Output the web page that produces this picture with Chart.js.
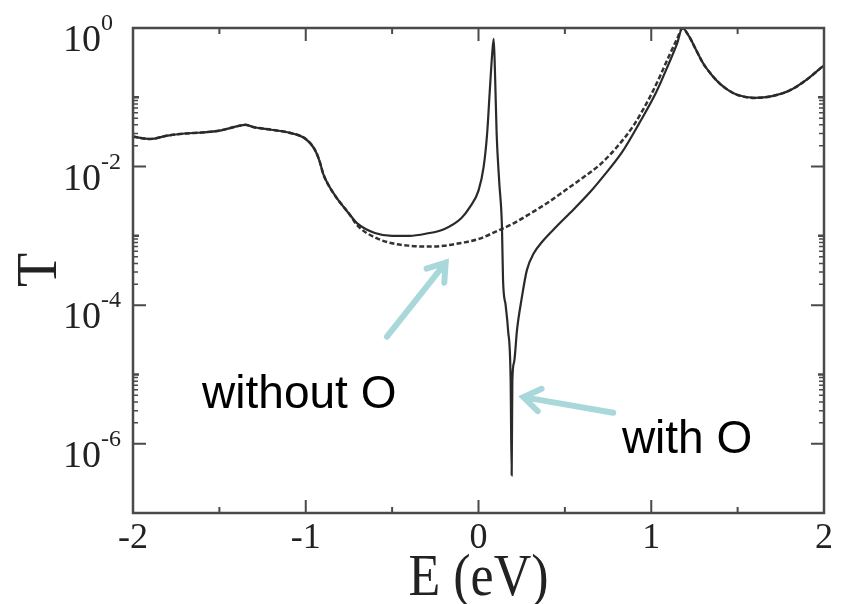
<!DOCTYPE html>
<html>
<head>
<meta charset="utf-8">
<script src="https://cdn.jsdelivr.net/npm/chart.js@4/dist/chart.umd.min.js"></script>
<style>
  html, body { margin: 0; padding: 0; background: #fff; }
  #wrap { width: 844px; height: 604px; }
</style>
</head>
<body>
<div id="wrap"><canvas id="myChart" width="844" height="604"></canvas></div>
<script>
// energies (eV) and transmission
var eWithout = [-2.0, -1.9, -1.8, -1.7, -1.6, -1.5, -1.4, -1.35, -1.3, -1.2, -1.1, -1.0, -0.95, -0.92, -0.9, -0.87, -0.82, -0.75, -0.7, -0.6, -0.5, -0.4, -0.3, -0.2, -0.1, 0.0, 0.1, 0.2, 0.3, 0.4, 0.5, 0.6, 0.7, 0.8, 0.9, 1.0, 1.05, 1.1, 1.15, 1.18, 1.22, 1.26, 1.3, 1.35, 1.4, 1.45, 1.5, 1.6, 1.7, 1.8, 1.9, 2.0];
var tWithout = [0.027, 0.025, 0.028, 0.030, 0.031, 0.033, 0.038, 0.040, 0.037, 0.034, 0.031, 0.025, 0.018, 0.012, 0.008, 0.0055, 0.0035, 0.0021, 0.0014, 0.00095, 0.00078, 0.00072, 0.00070, 0.00072, 0.00079, 0.00090, 0.00115, 0.0015, 0.0021, 0.0030, 0.0045, 0.0068, 0.0105, 0.019, 0.04, 0.11, 0.2, 0.38, 0.7, 0.98, 0.75, 0.48, 0.31, 0.21, 0.155, 0.125, 0.108, 0.098, 0.104, 0.125, 0.18, 0.29];

var eWith = [-2.0, -1.9, -1.8, -1.7, -1.6, -1.5, -1.4, -1.35, -1.3, -1.2, -1.1, -1.0, -0.95, -0.92, -0.9, -0.87, -0.82, -0.75, -0.7, -0.6, -0.5, -0.4, -0.3, -0.2, -0.1, -0.05, 0.0, 0.03, 0.05, 0.065, 0.08, 0.088, 0.095, 0.105, 0.12, 0.136, 0.142, 0.157, 0.171, 0.186, 0.192, 0.196, 0.206, 0.223, 0.25, 0.28, 0.32, 0.37, 0.45, 0.55, 0.65, 0.72, 0.83, 0.93, 1.03, 1.1, 1.15, 1.18, 1.22, 1.26, 1.3, 1.35, 1.4, 1.45, 1.5, 1.6, 1.7, 1.8, 1.9, 2.0];
var tWith = [0.027, 0.025, 0.028, 0.030, 0.031, 0.033, 0.038, 0.040, 0.037, 0.034, 0.031, 0.025, 0.018, 0.012, 0.008, 0.0055, 0.0035, 0.0021, 0.0015, 0.0011, 0.00100, 0.00100, 0.00108, 0.00125, 0.0018, 0.0026, 0.0045, 0.01, 0.03, 0.12, 0.45, 0.7, 0.25, 0.03, 0.006, 0.0013, 0.00023, 0.0001, 0.000044, 0.0000083, 3.5e-7, 0.0000083, 0.000015, 0.000044, 0.000125, 0.00032, 0.00056, 0.00083, 0.00135, 0.0024, 0.0044, 0.0071, 0.016, 0.042, 0.12, 0.3, 0.6, 1.0, 0.75, 0.48, 0.31, 0.21, 0.155, 0.125, 0.108, 0.098, 0.104, 0.125, 0.18, 0.29];

var xMajorTicks = [-2, -1, 0, 1, 2];
var xMinorTicks = [-1.5, -0.5, 0.5, 1.5];
var yMajorTicks = [1, 1e-2, 1e-4, 1e-6];
var yMajorExp = ['0', '-2', '-4', '-6'];

// small log ticks: 10^(d+1) and 2..9 x 10^d for d = -2, -4, -6
var yMidTicks = [1e-1, 1e-3, 1e-5];
var yMinorTicks = [];
[-2, -4, -6].forEach(function (d) {
    for (var m = 2; m <= 9; m++) yMinorTicks.push(m * Math.pow(10, d));
});

// annotations, in data coordinates
var notes = [
    { text: 'without O', x: -1.60, y: 3.3e-6, from: [-0.53, 3.5e-5], to: [-0.19, 4.1e-4] },
    { text: 'with O', x: 0.83, y: 7.4e-7, from: [0.78, 2.8e-6], to: [0.26, 4.7e-6] }
];

function toPoints(es, ts) {
    return es.map(function (e, i) { return { x: e, y: ts[i] }; });
}

var axisColor = '#4a4a4a';

var framePlugin = {
    id: 'frame',
    afterDraw: function (chart) {
        var ctx = chart.ctx, a = chart.chartArea;
        var x = chart.scales.x, y = chart.scales.y;
        ctx.save();
        ctx.strokeStyle = axisColor;
        ctx.lineWidth = 2.5;
        ctx.strokeRect(a.left, a.top, a.right - a.left, a.bottom - a.top);

        ctx.lineWidth = 2;
        function xTick(v, len) {
            var px = x.getPixelForValue(v);
            ctx.beginPath();
            ctx.moveTo(px, a.bottom); ctx.lineTo(px, a.bottom - len);
            ctx.moveTo(px, a.top); ctx.lineTo(px, a.top + len);
            ctx.stroke();
        }
        function yTick(v, len) {
            var py = y.getPixelForValue(v);
            ctx.beginPath();
            ctx.moveTo(a.left, py); ctx.lineTo(a.left + len, py);
            ctx.moveTo(a.right, py); ctx.lineTo(a.right - len, py);
            ctx.stroke();
        }
        xMajorTicks.forEach(function (v) { xTick(v, 13); });
        xMinorTicks.forEach(function (v) { xTick(v, 6); });
        yMajorTicks.forEach(function (v) { yTick(v, 13); });
        ctx.lineWidth = 2.5;
        yMidTicks.forEach(function (v) { yTick(v, 6); });
        ctx.lineWidth = 1.5;
        yMinorTicks.forEach(function (v) { yTick(v, 5); });

        // tick labels
        ctx.fillStyle = '#222';
        ctx.font = '36px "Liberation Serif", serif';
        ctx.textAlign = 'center';
        ctx.textBaseline = 'alphabetic';
        xMajorTicks.forEach(function (v) {
            ctx.fillText(String(v), x.getPixelForValue(v), a.bottom + 35);
        });
        yMajorTicks.forEach(function (v, i) {
            var py = y.getPixelForValue(v);
            ctx.textAlign = 'right';
            ctx.font = '38px "Liberation Serif", serif';
            ctx.fillText('10', a.left - 32, py + 23);
            ctx.textAlign = 'left';
            ctx.font = '24px "Liberation Serif", serif';
            ctx.fillText(yMajorExp[i], a.left - 32, py + 2);
        });

        // axis titles
        ctx.save();
        ctx.font = '52px "Liberation Serif", serif';
        ctx.textAlign = 'center';
        ctx.translate((a.left + a.right) / 2, a.bottom + 82);
        ctx.scale(1, 1.15);
        ctx.fillText('E (eV)', 0, 0);
        ctx.restore();

        ctx.save();
        ctx.font = '56px "Liberation Serif", serif';
        ctx.textAlign = 'center';
        ctx.translate(56, 270);
        ctx.rotate(-Math.PI / 2);
        ctx.fillText('T', 0, 0);
        ctx.restore();

        // arrows and notes
        notes.forEach(function (n) {
            var x0 = x.getPixelForValue(n.from[0]), y0 = y.getPixelForValue(n.from[1]);
            var x1 = x.getPixelForValue(n.to[0]), y1 = y.getPixelForValue(n.to[1]);
            var ang = Math.atan2(y1 - y0, x1 - x0);
            ctx.strokeStyle = '#a9d8db';
            ctx.lineWidth = 6;
            ctx.lineCap = 'round';
            ctx.beginPath();
            ctx.moveTo(x0, y0); ctx.lineTo(x1, y1);
            ctx.moveTo(x1 - 20 * Math.cos(ang - 0.6), y1 - 20 * Math.sin(ang - 0.6));
            ctx.lineTo(x1, y1);
            ctx.lineTo(x1 - 20 * Math.cos(ang + 0.6), y1 - 20 * Math.sin(ang + 0.6));
            ctx.stroke();

            ctx.fillStyle = '#000';
            ctx.font = '46px "Liberation Sans", Arial, sans-serif';
            ctx.textAlign = 'left';
            ctx.fillText(n.text, x.getPixelForValue(n.x), y.getPixelForValue(n.y));
        });
        ctx.restore();
    }
};

var ctx = document.getElementById('myChart');
window.myChart = new Chart(ctx, {
    type: 'line',
    data: {
        datasets: [{
            label: 'with O',
            data: toPoints(eWith, tWith),
            borderColor: '#2a2a2a',
            borderWidth: 2.2,
            pointRadius: 0,
            cubicInterpolationMode: 'monotone',
            fill: false
        }, {
            label: 'without O',
            data: toPoints(eWithout, tWithout),
            borderColor: '#333',
            borderWidth: 2.5,
            borderDash: [5, 2.5],
            pointRadius: 0,
            cubicInterpolationMode: 'monotone',
            fill: false
        }]
    },
    options: {
        responsive: false,
        animation: false,
        layout: { padding: { left: 133, right: 20, top: 28, bottom: 91 } },
        plugins: { legend: { display: false }, tooltip: { enabled: false } },
        scales: {
            x: { type: 'linear', min: -2, max: 2, display: false },
            y: { type: 'logarithmic', min: 1e-7, max: 1, display: false }
        }
    },
    plugins: [framePlugin]
});
</script>
</body>
</html>
